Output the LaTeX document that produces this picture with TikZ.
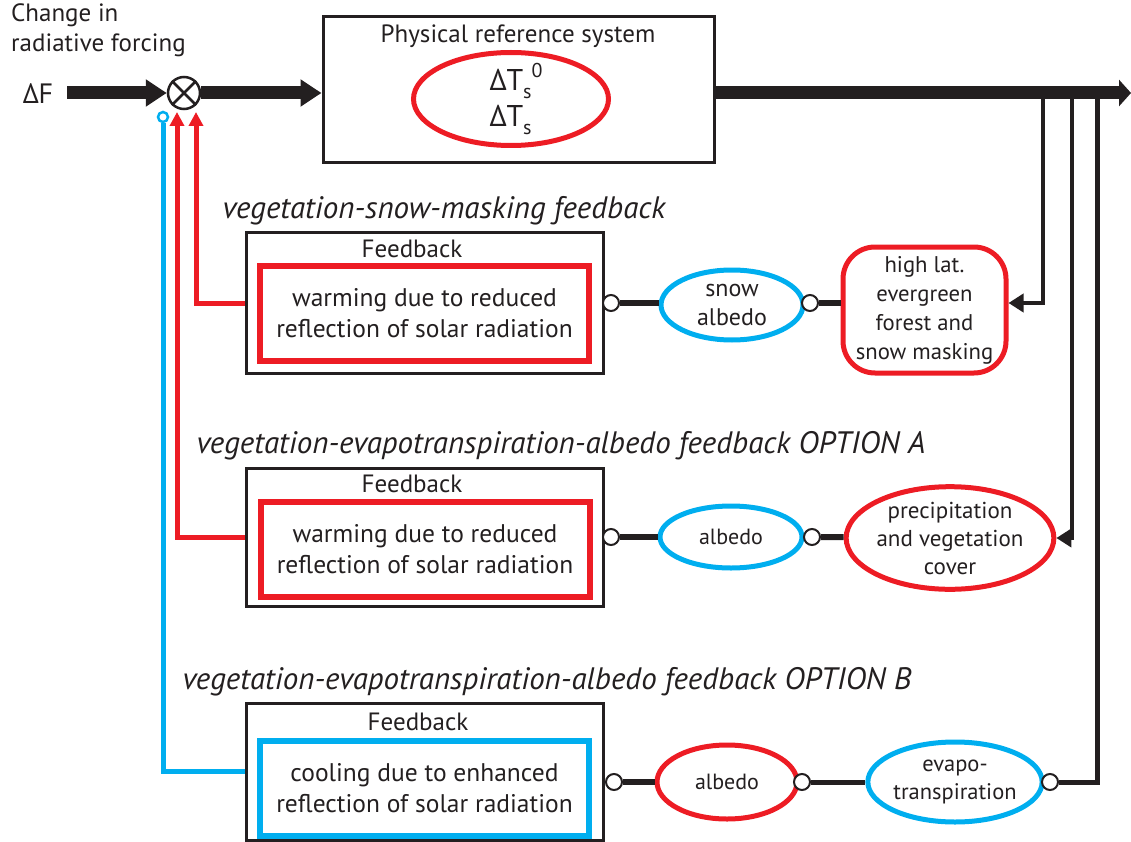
\documentclass[tikz,border=0pt]{standalone}
\usepackage{fontspec}
\setmainfont{PT Sans}
\usetikzlibrary{arrows.meta,shapes.geometric,calc}
\definecolor{myred}{HTML}{ED1C24}
\definecolor{myblue}{HTML}{00AEEF}
\definecolor{myblack}{HTML}{231F20}
\begin{document}
\begin{tikzpicture}[x=1pt,y=-1pt,
  every node/.style={text=myblack,inner sep=0pt},
  txt/.style={font=\fontsize{25}{30}\selectfont,align=center},
  ttl/.style={font=\fontsize{31}{36}\selectfont\itshape},
  blackbox/.style={draw=myblack,line width=3pt,minimum width=357pt},
  innerbox/.style={line width=6pt,minimum width=329pt,minimum height=95pt,font=\fontsize{25.5}{31}\selectfont,align=center},
  redell/.style={ellipse,draw=myred,line width=5pt,align=center},
  blueell/.style={ellipse,draw=myblue,line width=5pt,align=center},
  oc/.style={circle,draw=myblack,fill=white,line width=2pt,minimum size=16pt},
  link/.style={draw=myblack,line width=6pt},
  tap/.style={draw=myblack,line width=4pt,-{Triangle[length=15pt,width=18pt]}},
  fbline/.style={line width=5pt,-{Triangle[length=14pt,width=14pt]}},
  bigarrow/.style={draw=myblack,line width=13pt,-{Triangle[length=21pt,width=26pt]}}
]
\useasboundingbox (0,0) rectangle (1131,842);

% input
\node[anchor=north west,align=left,font=\fontsize{25}{30}\selectfont] (cap) at (11,4) {Change in\\radiative forcing};
\node[font=\fontsize{28}{32}\selectfont] (dF) at (38,94) {ΔF};
\node[circle,draw=myblack,line width=2.5pt,minimum size=32pt] (sum) at (184,93) {};
\draw[myblack,line width=2.5pt] (sum.north west) -- (sum.south east) (sum.north east) -- (sum.south west);
\draw[bigarrow] ($(dF.east |- sum)+(14,0)$) -- (sum.west);

% physical reference system
\node[draw=myblack,line width=3pt,minimum width=391pt,minimum height=146pt] (phys) at (518.5,90) {};
\node[txt] (physt) at (518,36) {Physical reference system};
\node[redell,minimum width=195pt,minimum height=93pt] (dT) at (511,99) {};
\node[font=\fontsize{30}{36}\selectfont,align=left] (dTt) at (516,99) {ΔT\raisebox{-0.5ex}{\fontsize{20}{20}\selectfont s}\raisebox{0.9ex}{\fontsize{20}{20}\selectfont 0}\\ΔT\raisebox{-0.5ex}{\fontsize{20}{20}\selectfont s}\phantom{\fontsize{20}{20}\selectfont 0}};
\draw[bigarrow] (sum.east) -- (sum.east -| phys.west);

% output and taps
\coordinate (out) at (1131,93);
\coordinate (t1) at (1043,93);
\coordinate (t2) at (1072,93);
\coordinate (t3) at (1097,93);
\draw[bigarrow,-{Triangle[length=12pt,width=26pt]}] (sum.east -| phys.east) -- (out);

% ---------- snow masking ----------
\node[ttl] (ttl1) at (444,211) {vegetation-snow-masking feedback};
\node[blackbox,minimum height=140pt] (fb1) at (424.5,303) {};
\node[txt] (fb1t) at (412,249) {Feedback};
\node[innerbox,draw=myred] (in1) at (424.5,313.5) {warming due to reduced\\reflection of solar radiation};
\node[blueell,minimum width=142pt,minimum height=70pt,font=\fontsize{24}{29}\selectfont] (sa) at (732,305) {snow\\albedo};
\node[draw=myred,line width=5pt,rounded corners=32pt,minimum width=163pt,minimum height=126pt,align=center,font=\fontsize{22.7}{29}\selectfont] (hl) at (924.5,310) {high lat.\\evergreen\\forest and\\snow masking};
\node[oc] (c1) at (611,303) {};
\node[oc] (c2) at (810,303) {};
\draw[link] (c1) -- (c1 -| sa.west);
\draw[link] (c2) -- (c2 -| hl.west);
\draw[tap] (t1) |- (c2 -| hl.east);

% ---------- option A ----------
\node[ttl] (ttl2) at (561,446) {vegetation-evapotranspiration-albedo feedback OPTION A};
\node[blackbox,minimum height=138pt] (fb2) at (424.5,537) {};
\node[txt] (fb2t) at (412,484) {Feedback};
\node[innerbox,draw=myred] (in2) at (425,549.5) {warming due to reduced\\reflection of solar radiation};
\node[blueell,minimum width=142pt,minimum height=62pt,font=\fontsize{22}{26}\selectfont] (alb1) at (731,537) {albedo};
\node[redell,minimum width=195pt,minimum height=94pt,font=\fontsize{23}{28}\selectfont] (pv) at (950,538) {precipitation\\and vegetation\\cover};
\node[oc] (c3) at (611,537) {};
\node[oc] (c4) at (812,537) {};
\draw[link] (c3) -- (alb1);
\draw[link] (c4) -- (pv);
\draw[tap] (t2) |- (pv.east);

% ---------- option B ----------
\node[ttl] (ttl3) at (547,682) {vegetation-evapotranspiration-albedo feedback OPTION B};
\node[blackbox,minimum height=137pt] (fb3) at (424.5,771.5) {};
\node[txt] (fb3t) at (418,722) {Feedback};
\node[innerbox,draw=myblue] (in3) at (424.5,788.5) {cooling due to enhanced\\reflection of solar radiation};
\node[redell,minimum width=140pt,minimum height=74pt,font=\fontsize{22}{26}\selectfont] (alb2) at (727,782) {albedo};
\node[blueell,minimum width=166pt,minimum height=80pt,font=\fontsize{22.5}{28}\selectfont] (ev) at (955,782) {evapo-\\transpiration};
\node[oc] (c5) at (614,782) {};
\node[oc] (c6) at (802,782) {};
\node[oc] (c7) at (1050,782) {};
\draw[link] (c5) -- (alb2);
\draw[draw=myblack,line width=5pt] (c6) -- (ev);
\draw[draw=myblack,line width=5pt] (c7) -- (c7 -| t3) -- (t3);

% ---------- feedback lines to summing point ----------
\coordinate (s1) at (196,112);
\coordinate (s2) at (177,112);
\node[circle,draw=myblue,fill=white,line width=2.5pt,minimum size=10pt] (s3) at (163,117) {};
\draw[fbline,myred] (fb1.west) -| (s1);
\draw[fbline,myred] (fb2.west) -| (s2);
\draw[myblue,line width=5pt] (fb3.west) -| (s3.south);
\end{tikzpicture}
\end{document}
